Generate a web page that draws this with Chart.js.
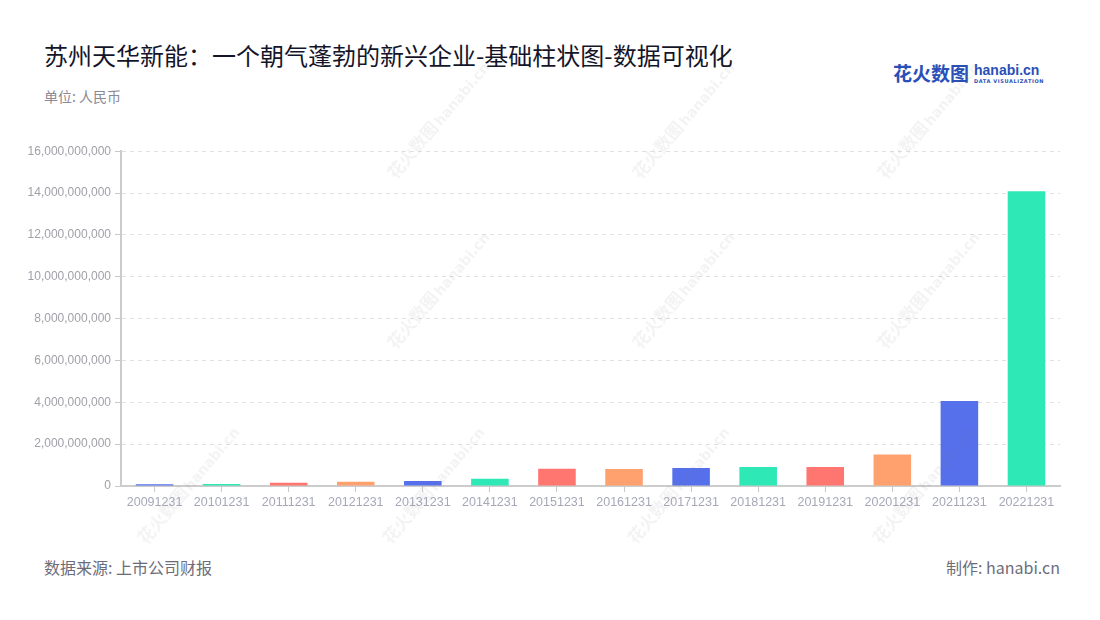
<!DOCTYPE html>
<html>
<head>
<meta charset="utf-8">
<script src="https://cdn.jsdelivr.net/npm/chart.js@4/dist/chart.umd.min.js"></script>
<style>
  html, body { margin: 0; padding: 0; background: #fff; }
  body { width: 1100px; height: 620px; position: relative; overflow: hidden;
         font-family: "Noto Sans CJK SC", "Noto Sans", sans-serif; }
  .title { position: absolute; left: 44px; top: 37px; font-size: 24px; color: #15152a; }
  .unit { position: absolute; left: 44px; top: 86px; font-size: 14px; color: #8a8a96; }
  .logo { position: absolute; left: 893px; top: 59px; color: #2a4fb8; font-weight: bold; white-space: nowrap; }
  .logo .cn { font-size: 19px; vertical-align: top; }
  .logo .en { display: inline-block; margin-left: 5px; vertical-align: top; line-height: 1; }
  .logo .en b { display: block; font-size: 14px; font-family: "Liberation Sans", sans-serif; padding-top: 4px; }
  .logo .en i { display: block; font-size: 5px; font-style: normal; letter-spacing: 0.6px;
                font-family: "DejaVu Sans", sans-serif; margin-top: 2px; }
  .src { position: absolute; left: 44px; top: 555px; font-size: 16px; color: #6d6d7a; }
  .by { position: absolute; right: 40px; top: 555px; font-size: 16px; color: #6d6d7a; }
  #wrap { position: absolute; left: 20px; top: 140px; width: 1050px; height: 373px; }
  .wm { position: absolute; transform-origin: 0 50%; transform: rotate(-50deg);
        color: rgba(120,120,130,0.09); font-weight: bold; white-space: nowrap; pointer-events: none; }
  .wm .c { font-size: 17px; }
  .wm .e { font-size: 14px; font-family: "DejaVu Sans", sans-serif; margin-left: 2px; }
</style>
</head>
<body>
<div class="title">苏州天华新能：一个朝气蓬勃的新兴企业-基础柱状图-数据可视化</div>
<div class="unit">单位: 人民币</div>
<div class="logo"><span class="cn">花火数图</span><span class="en"><b>hanabi.cn</b><i>DATA VISUALIZATION</i></span></div>
<div class="src">数据来源: 上市公司财报</div>
<div class="by">制作: hanabi.cn</div>
<div id="wrap"><canvas id="chart"></canvas></div>

<script>
// ── Data ───────────────────────────────────────────────────────────────────
const DATES = [
  "20091231", "20101231", "20111231", "20121231", "20131231", "20141231", "20151231",
  "20161231", "20171231", "20181231", "20191231", "20201231", "20211231", "20221231",
];
const VALUES = [
  80000000, 100000000, 150000000, 200000000, 240000000, 350000000, 830000000,
  810000000, 860000000, 910000000, 910000000, 1500000000, 4060000000, 14090000000,
];
const PALETTE = ["#5670ec", "#2ee8b6", "#ff7570", "#ffa16e"];
const Y_MAX = 16000000000;
const Y_STEP = 2000000000;

// ── Watermarks ─────────────────────────────────────────────────────────────
const WM_SPOTS = [[390, 175], [635, 175], [880, 175], [390, 345], [635, 345], [880, 345],
                  [140, 540], [385, 540], [630, 540], [875, 540]];
WM_SPOTS.forEach(([x, y]) => {
  const el = document.createElement("div");
  el.className = "wm";
  el.style.left = x + "px";
  el.style.top = (y - 12) + "px";
  el.innerHTML = '<span class="c">花火数图</span><span class="e">hanabi.cn</span>';
  document.body.appendChild(el);
});

// ── Chart ──────────────────────────────────────────────────────────────────
const barColors = VALUES.map((_, i) => PALETTE[i % PALETTE.length]);

new Chart(document.getElementById("chart"), {
  type: "bar",
  data: {
    labels: DATES,
    datasets: [{
      data: VALUES,
      backgroundColor: barColors,
      borderWidth: 0,
      barPercentage: 0.56,
      categoryPercentage: 1,
    }],
  },
  options: {
    responsive: true,
    maintainAspectRatio: false,
    animation: false,
    layout: { padding: { top: 10, right: 10, bottom: 0, left: 0 } },
    plugins: { legend: { display: false }, tooltip: { enabled: false } },
    scales: {
      x: {
        grid: { display: true, offset: false, drawOnChartArea: false, tickLength: 6, tickColor: "#c8c8c8" },
        border: { color: "#cccccc", width: 2 },
        ticks: { color: "#a6a8b8", font: { size: 12.5, family: "Liberation Sans" }, maxRotation: 0, padding: 3 },
      },
      y: {
        min: 0, max: Y_MAX,
        afterFit: s => { s.width = 101; },
        grid: { color: "#e0e0e0", tickColor: "#c8c8c8", tickLength: 6 },
        border: { color: "#cccccc", width: 2, dash: [4, 4] },
        ticks: {
          stepSize: Y_STEP,
          color: "#a0a0a8",
          font: { size: 12, family: "Liberation Sans" },
          padding: 4,
          callback: v => v.toLocaleString("en-US"),
        },
      },
    },
  },
});
</script>
</body>
</html>
